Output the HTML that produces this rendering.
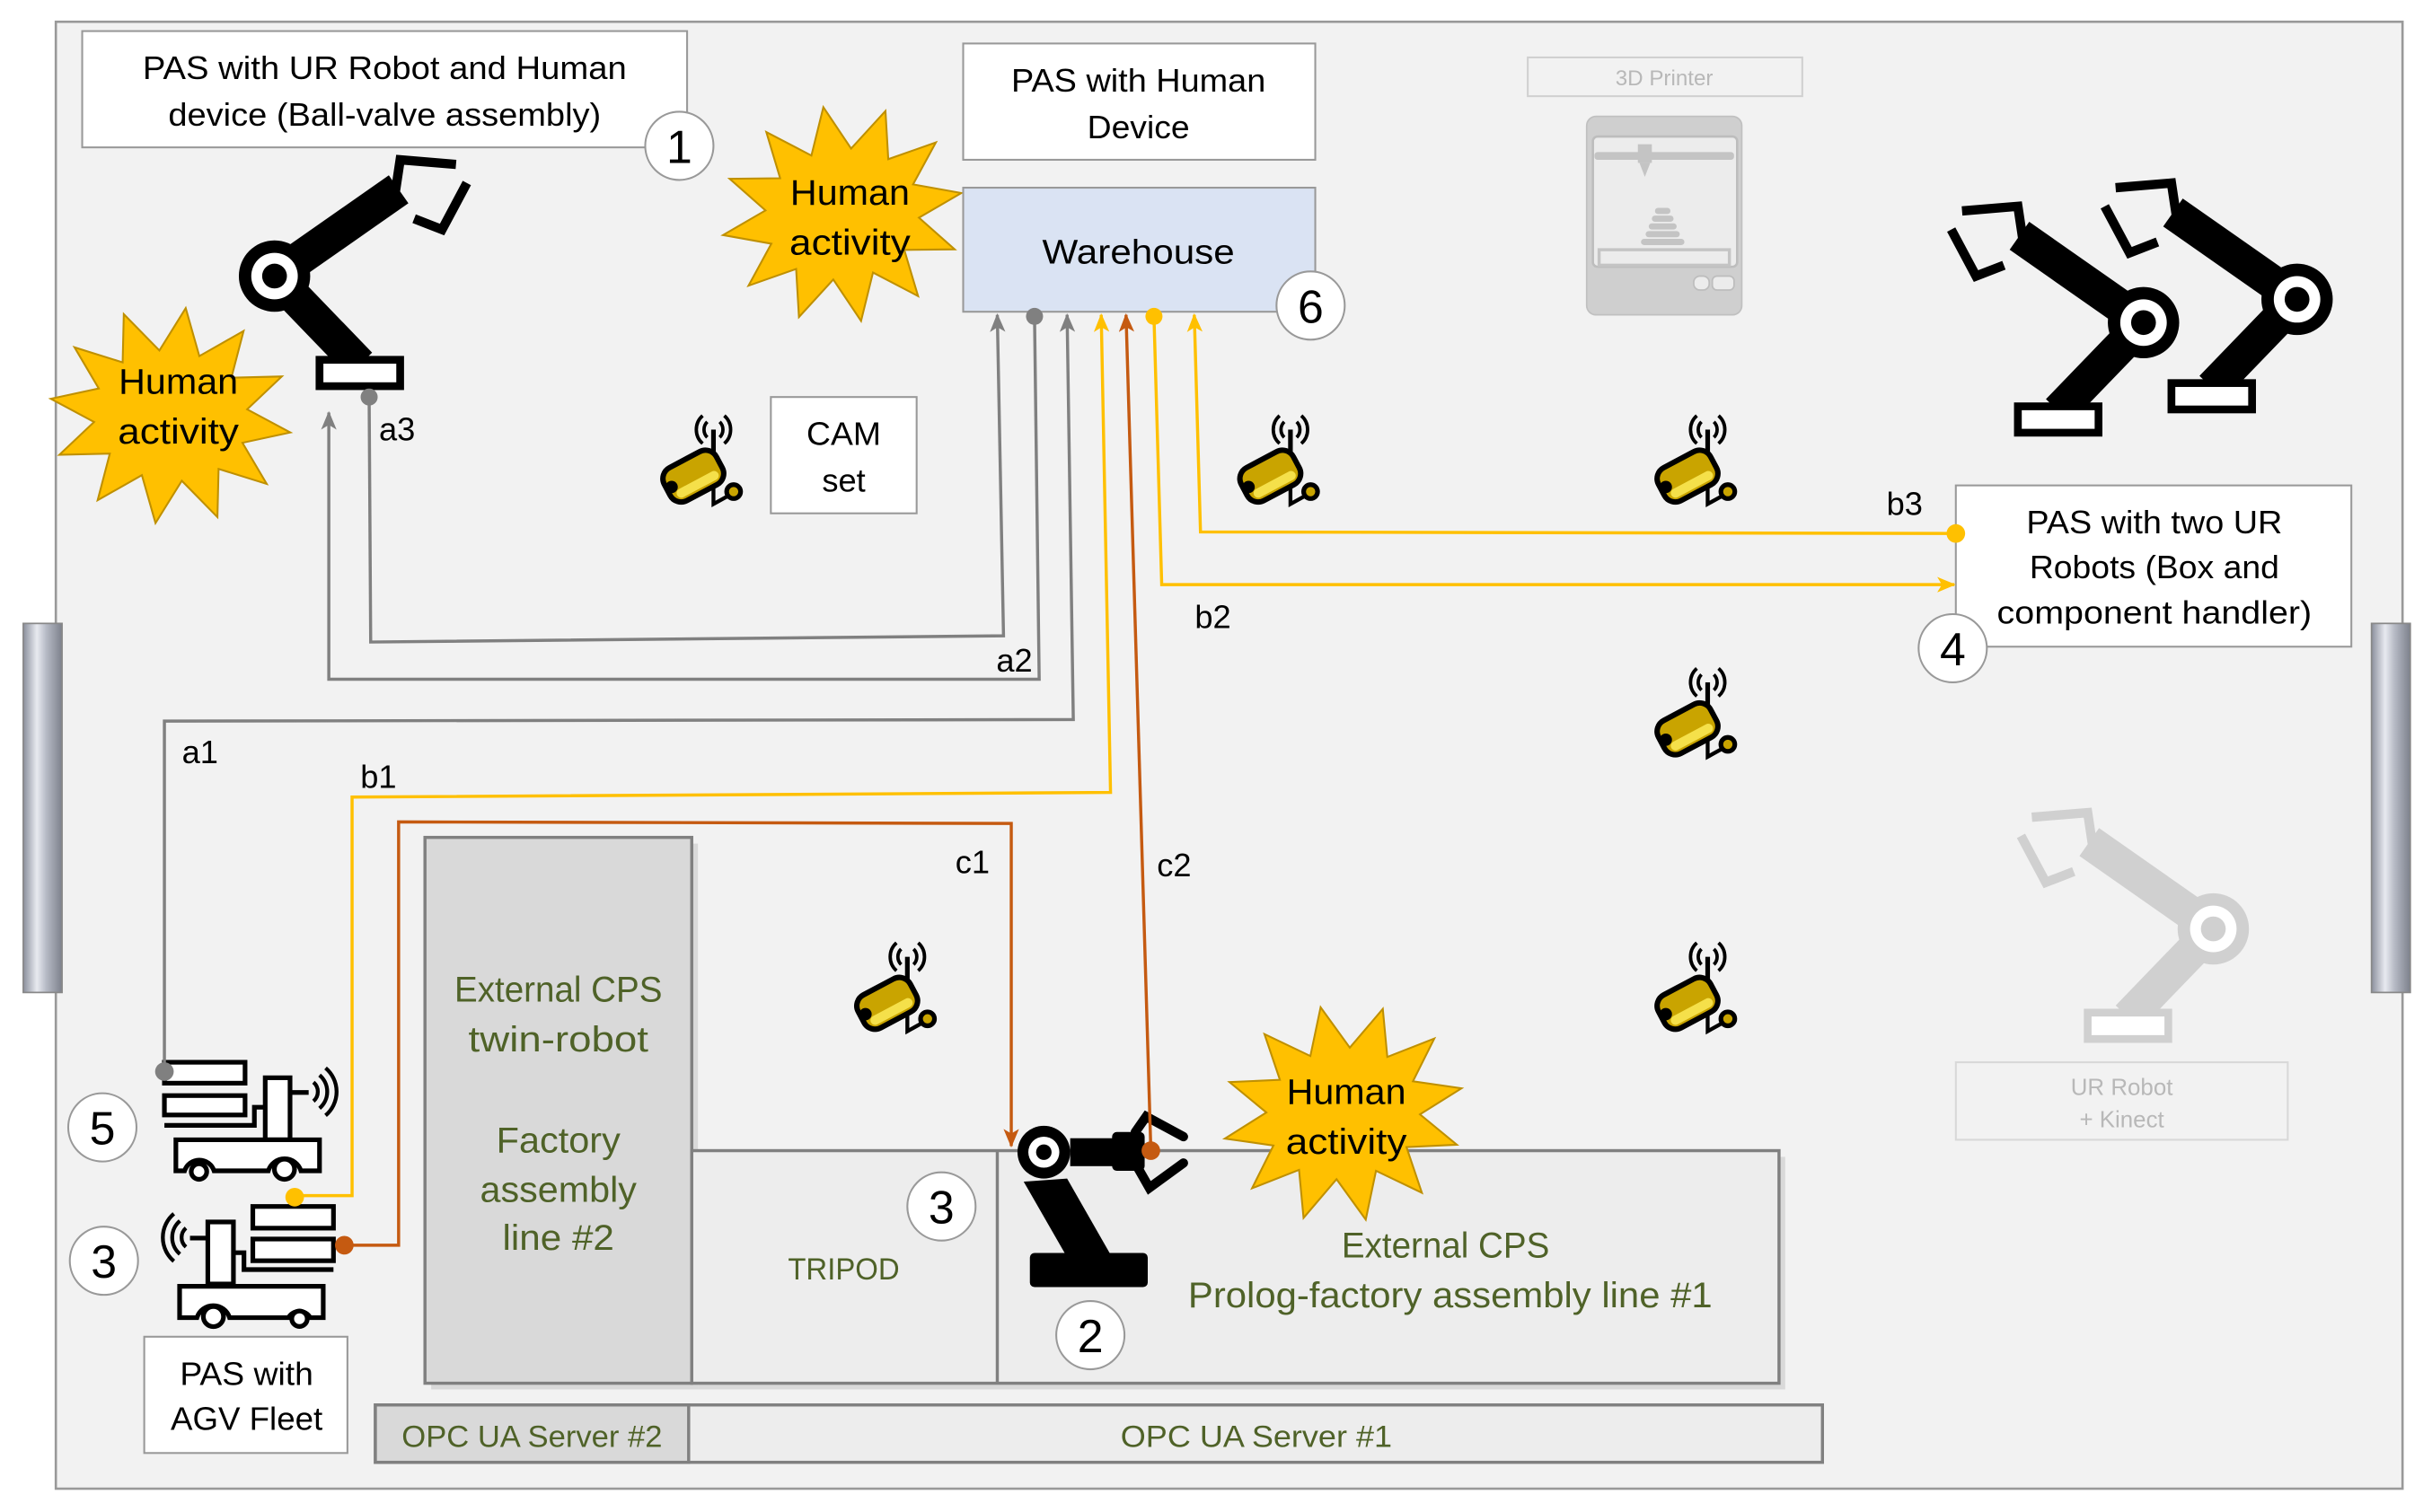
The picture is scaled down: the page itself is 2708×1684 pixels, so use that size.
<!DOCTYPE html>
<html><head><meta charset="utf-8"><style>
html,body{margin:0;padding:0;background:#fff;}
svg{display:block;}
text{font-family:"Liberation Sans",sans-serif;}
</style></head><body>
<svg width="2708" height="1684" viewBox="0 0 1568 975" xmlns="http://www.w3.org/2000/svg">
<defs>
<linearGradient id="bar" x1="0" x2="1" y1="0" y2="0">
<stop offset="0" stop-color="#8a8f9c"/><stop offset="0.35" stop-color="#e8eaf0"/><stop offset="0.6" stop-color="#b5b9c4"/><stop offset="1" stop-color="#7d818c"/>
</linearGradient>
<marker id="ag" markerWidth="12" markerHeight="10" refX="11" refY="5" orient="auto" markerUnits="userSpaceOnUse" viewBox="0 0 12 10"><path d="M0 0 L12 5 L0 10 L3 5 Z" fill="#808080"/></marker>
<marker id="ay" markerWidth="12" markerHeight="10" refX="11" refY="5" orient="auto" markerUnits="userSpaceOnUse" viewBox="0 0 12 10"><path d="M0 0 L12 5 L0 10 L3 5 Z" fill="#ffc000"/></marker>
<marker id="ao" markerWidth="12" markerHeight="10" refX="11" refY="5" orient="auto" markerUnits="userSpaceOnUse" viewBox="0 0 12 10"><path d="M0 0 L12 5 L0 10 L3 5 Z" fill="#c55a11"/></marker>
<g id="star">
<polygon points="78,0 48.3,10.9 67.5,35 35.4,29.7 39,60.6 13,40.6 0,70 -13,40.6 -39,60.6 -35.4,29.7 -67.5,35 -48.3,10.9 -78,0 -48.3,-10.9 -67.5,-35 -35.4,-29.7 -39,-60.6 -13,-40.6 0,-70 13,-40.6 39,-60.6 35.4,-29.7 67.5,-35 48.3,-10.9" fill="#ffc000" stroke="#bf9000" stroke-width="1.2"/>
</g>
<g id="rob">
<line x1="0" y1="0" x2="55" y2="57" stroke-width="22"/>
<rect x="29" y="54" width="52" height="17" fill="#fff" stroke-width="5"/>
<line x1="0" y1="0" x2="80" y2="-56" stroke-width="22"/>
<polyline points="78,-55 81,-75 117,-72" fill="none" stroke-width="6"/>
<polyline points="90,-37 108,-30 124,-60" fill="none" stroke-width="6"/>
<circle cx="0" cy="0" r="23" stroke="none"/>
<circle cx="0" cy="0" r="15" fill="#fff" stroke="none"/>
<circle cx="0" cy="0" r="8" stroke="none"/>
</g>
<g id="cam">
<path d="M-4 -5 A7 7 0 0 0 -4 5 M-7 -9 A12 12 0 0 0 -7 9 M4 -5 A7 7 0 0 1 4 5 M7 -9 A12 12 0 0 1 7 9" fill="none" stroke="#000" stroke-width="2.2"/>
<line x1="0" y1="0" x2="0" y2="22" stroke="#000" stroke-width="3"/>
<polyline points="0,36 0,48 9,43" fill="none" stroke="#000" stroke-width="2.5"/>
<circle cx="13" cy="40" r="4.5" fill="#c9a400" stroke="#000" stroke-width="3"/>
<g transform="translate(-13,30) rotate(-28)">
<rect x="-19" y="-12" width="38" height="24" rx="8" fill="#c9a400" stroke="#000" stroke-width="3.5"/>
<rect x="-15" y="3" width="30" height="6" rx="3" fill="#f5e04a"/>
</g>
<circle cx="-27" cy="37" r="4" fill="#000"/>
</g>
</defs>

<rect x="36" y="14" width="1513" height="946" fill="#f2f2f2" stroke="#999" stroke-width="1.5"/>
<rect x="15" y="402" width="25" height="238" fill="url(#bar)" stroke="#888" stroke-width="1"/>
<rect x="1529" y="402" width="25" height="238" fill="url(#bar)" stroke="#888" stroke-width="1"/>

<rect x="53" y="20" width="390" height="75" fill="#fff" stroke="#999" stroke-width="1.2"/>
<text x="248" y="51" font-size="21" text-anchor="middle" textLength="312" lengthAdjust="spacingAndGlyphs">PAS with UR Robot and  Human</text>
<text x="248" y="81" font-size="21" text-anchor="middle" textLength="279" lengthAdjust="spacingAndGlyphs">device (Ball-valve assembly)</text>

<g transform="translate(177,178)" fill="#000" stroke="#000"><use href="#rob"/></g>

<g transform="translate(110,268) rotate(8)"><use href="#star"/></g>
<text x="115" y="254" font-size="23" text-anchor="middle" textLength="77" lengthAdjust="spacingAndGlyphs">Human</text>
<text x="115" y="286" font-size="23" text-anchor="middle" textLength="78" lengthAdjust="spacingAndGlyphs">activity</text>

<g transform="translate(543,138) rotate(-10)"><use href="#star"/></g>
<text x="548" y="132" font-size="23" text-anchor="middle" textLength="77" lengthAdjust="spacingAndGlyphs">Human</text>
<text x="548" y="164" font-size="23" text-anchor="middle" textLength="78" lengthAdjust="spacingAndGlyphs">activity</text>

<rect x="621" y="28" width="227" height="75" fill="#fff" stroke="#999" stroke-width="1.2"/>
<text x="734" y="59" font-size="21" text-anchor="middle" textLength="164" lengthAdjust="spacingAndGlyphs">PAS with Human</text>
<text x="734" y="89" font-size="21" text-anchor="middle" textLength="66" lengthAdjust="spacingAndGlyphs">Device</text>

<rect x="621" y="121" width="227" height="80" fill="#dae3f3" stroke="#999" stroke-width="1.2"/>
<text x="734" y="170" font-size="22" text-anchor="middle" textLength="124" lengthAdjust="spacingAndGlyphs">Warehouse</text>

<rect x="985" y="37" width="177" height="25" fill="#f2f2f2" stroke="#d0d0d0" stroke-width="1.2"/>
<text x="1073" y="55" font-size="14" fill="#b8b8b8" text-anchor="middle">3D Printer</text>
<rect x="1023" y="75" width="100" height="128" rx="6" fill="#cfcfcf" stroke="#c0c0c0"/>
<rect x="1027" y="88" width="93" height="84" rx="3" fill="#ececec" stroke="#bdbdbd" stroke-width="1.5"/>
<rect x="1028" y="98" width="90" height="5" rx="2" fill="#c4c4c4"/>
<rect x="1056" y="93" width="9" height="12" fill="#c4c4c4"/>
<path d="M1057 105 L1064 105 L1060.5 114 Z" fill="#c4c4c4"/>
<rect x="1067" y="134" width="10" height="4" rx="2" fill="#c4c4c4"/>
<rect x="1065" y="139" width="14" height="4" rx="2" fill="#c4c4c4"/>
<rect x="1063" y="144" width="18" height="4" rx="2" fill="#c4c4c4"/>
<rect x="1061" y="149" width="22" height="4" rx="2" fill="#c4c4c4"/>
<rect x="1058" y="154" width="28" height="4" rx="2" fill="#c4c4c4"/>
<rect x="1031" y="161" width="84" height="10" fill="#ececec" stroke="#c4c4c4" stroke-width="2"/>
<rect x="1092" y="178" width="10" height="9" rx="4" fill="#ececec" stroke="#bdbdbd"/>
<rect x="1104" y="178" width="14" height="9" rx="3" fill="#ececec" stroke="#bdbdbd"/>

<g transform="translate(1382,208) scale(-1,1)" fill="#000" stroke="#000"><use href="#rob"/></g>
<g transform="translate(1481,193) scale(-1,1)" fill="#000" stroke="#000"><use href="#rob"/></g>

<g transform="translate(1427,599) scale(-1,1)" fill="#d0d0d0" stroke="#d0d0d0"><use href="#rob"/></g>
<rect x="1261" y="685" width="214" height="50" fill="none" stroke="#d8d8d8" stroke-width="1.2"/>
<text x="1368" y="706" font-size="15" fill="#b8b8b8" text-anchor="middle">UR Robot</text>
<text x="1368" y="727" font-size="15" fill="#b8b8b8" text-anchor="middle">+ Kinect</text>

<rect x="1261" y="313" width="255" height="104" fill="#fff" stroke="#999" stroke-width="1.2"/>
<text x="1389" y="344" font-size="21" text-anchor="middle" textLength="165" lengthAdjust="spacingAndGlyphs">PAS with two UR</text>
<text x="1389" y="373" font-size="21" text-anchor="middle" textLength="161" lengthAdjust="spacingAndGlyphs">Robots (Box and</text>
<text x="1389" y="402" font-size="21" text-anchor="middle" textLength="203" lengthAdjust="spacingAndGlyphs">component handler)</text>

<rect x="497" y="256" width="94" height="75" fill="#fff" stroke="#999" stroke-width="1.2"/>
<text x="544" y="287" font-size="21" text-anchor="middle" textLength="48" lengthAdjust="spacingAndGlyphs">CAM</text>
<text x="544" y="317" font-size="21" text-anchor="middle">set</text>

<use href="#cam" transform="translate(460,277)"/>
<use href="#cam" transform="translate(832,277)"/>
<use href="#cam" transform="translate(1101,277)"/>
<use href="#cam" transform="translate(1101,440)"/>
<use href="#cam" transform="translate(585,617)"/>
<use href="#cam" transform="translate(1101,617)"/>

<rect x="278" y="544" width="172" height="352" fill="#c8c8c8" opacity="0.6"/>
<rect x="274" y="540" width="172" height="352" fill="#d9d9d9" stroke="#808080" stroke-width="2"/>
<g fill="#4f6228" font-size="23" text-anchor="middle">
<text x="360" y="646" textLength="134" lengthAdjust="spacingAndGlyphs">External CPS</text>
<text x="360" y="678" textLength="116" lengthAdjust="spacingAndGlyphs">twin-robot</text>
<text x="360" y="743" textLength="80" lengthAdjust="spacingAndGlyphs">Factory</text>
<text x="360" y="775" textLength="101" lengthAdjust="spacingAndGlyphs">assembly</text>
<text x="360" y="806" textLength="72" lengthAdjust="spacingAndGlyphs">line #2</text>
</g>

<rect x="450" y="746" width="701" height="150" fill="#c8c8c8" opacity="0.6"/>
<rect x="446" y="742" width="701" height="150" fill="#ededed" stroke="#808080" stroke-width="2"/>
<line x1="643" y1="742" x2="643" y2="892" stroke="#808080" stroke-width="2"/>
<text x="544" y="825" font-size="20" fill="#4f6228" text-anchor="middle" textLength="72" lengthAdjust="spacingAndGlyphs">TRIPOD</text>
<text x="932" y="811" font-size="23" fill="#4f6228" text-anchor="middle" textLength="134" lengthAdjust="spacingAndGlyphs">External CPS</text>
<text x="935" y="843" font-size="23" fill="#4f6228" text-anchor="middle" textLength="338" lengthAdjust="spacingAndGlyphs">Prolog-factory assembly line #1</text>

<g fill="#000">
<polygon points="660,762 688,760 716,809 687,809"/>
<rect x="664" y="808" width="76" height="22" rx="3"/>
<rect x="690" y="734" width="30" height="18"/>
<rect x="717" y="730" width="21" height="25" rx="3"/>
<circle cx="673" cy="743" r="17"/>
<circle cx="673" cy="743" r="10" fill="#fff"/>
<circle cx="673" cy="743" r="5"/>
</g>
<polyline points="732,730 739,720 763,733" fill="none" stroke="#000" stroke-width="6" stroke-linecap="round"/>
<polyline points="733,752 741,766 763,750" fill="none" stroke="#000" stroke-width="6" stroke-linecap="round"/>

<g transform="translate(866,718) rotate(-12)"><use href="#star"/></g>
<text x="868" y="712" font-size="23" text-anchor="middle" textLength="77" lengthAdjust="spacingAndGlyphs">Human</text>
<text x="868" y="744" font-size="23" text-anchor="middle" textLength="78" lengthAdjust="spacingAndGlyphs">activity</text>

<rect x="242" y="906" width="933" height="37" fill="#ededed" stroke="#808080" stroke-width="2"/>
<rect x="242" y="906" width="202" height="37" fill="#d9d9d9" stroke="#808080" stroke-width="2"/>
<text x="343" y="933" font-size="20" fill="#4f6228" text-anchor="middle" textLength="168" lengthAdjust="spacingAndGlyphs">OPC UA Server #2</text>
<text x="810" y="933" font-size="20" fill="#4f6228" text-anchor="middle" textLength="175" lengthAdjust="spacingAndGlyphs">OPC UA Server #1</text>

<g fill="#fff" stroke="#000" stroke-width="3">
<rect x="106" y="685" width="52" height="13.5"/>
<rect x="106" y="706.5" width="52" height="12.5"/>
<polyline points="106,725.7 164,725.7 164,714 171,714" fill="none"/>
<rect x="171" y="695" width="16" height="40"/>
<line x1="187" y1="704.5" x2="199" y2="704.5"/>
<path d="M113.4 735 L206 735 L206 755 L194 755 A11 11 0 0 0 173 755 L138 755 A10 10 0 0 0 119 755 L113.4 755 Z"/>
<circle cx="128.3" cy="755.5" r="5"/>
<circle cx="183.4" cy="754" r="6.5"/>
<path d="M202.1 697.9 A8 8 0 0 1 202.1 710.1 M206 693.3 A14 14 0 0 1 206 714.7 M209.9 688.7 A20 20 0 0 1 209.9 719.3" fill="none" stroke-width="2.5"/>
</g>
<g fill="#fff" stroke="#000" stroke-width="3">
<rect x="163" y="778" width="52" height="14"/>
<rect x="163" y="799" width="52" height="14"/>
<polyline points="215,818.7 157.3,818.7 157.3,807.8 150.5,807.8" fill="none"/>
<rect x="134" y="788" width="16.5" height="40"/>
<line x1="122.5" y1="798.4" x2="134" y2="798.4"/>
<path d="M115.8 829.5 L208.4 829.5 L208.4 849.7 L200 849.7 A8 8 0 0 0 186 849.7 L148 849.7 A11 11 0 0 0 127 849.7 L115.8 849.7 Z"/>
<circle cx="137.6" cy="849" r="6.5"/>
<circle cx="193.1" cy="850.4" r="5"/>
<path d="M119.9 791.9 A8 8 0 0 0 119.9 804.1 M116 787.3 A14 14 0 0 0 116 808.7 M112.1 782.7 A20 20 0 0 0 112.1 813.3" fill="none" stroke-width="2.5"/>
</g>

<rect x="93" y="862" width="131" height="75" fill="#fff" stroke="#999" stroke-width="1.2"/>
<text x="159" y="893" font-size="21" text-anchor="middle" textLength="86" lengthAdjust="spacingAndGlyphs">PAS with</text>
<text x="159" y="922" font-size="21" text-anchor="middle" textLength="98" lengthAdjust="spacingAndGlyphs">AGV Fleet</text>

<g fill="none" stroke-width="2">
<polyline points="238,256 239,414 647,410 643,203" stroke="#808080" marker-end="url(#ag)"/>
<polyline points="667,204 670,438 212,438 212,266" stroke="#808080" marker-end="url(#ag)"/>
<polyline points="106,691 106,465 692,464 688,203" stroke="#808080" marker-end="url(#ag)"/>
<polyline points="190,771 227,771 227,514 716,511 710,203" stroke="#ffc000" marker-end="url(#ay)"/>
<polyline points="222,803 257,803 257,530 652,531 652,739" stroke="#c55a11" marker-end="url(#ao)"/>
<polyline points="742,742 726,203" stroke="#c55a11" marker-end="url(#ao)"/>
<polyline points="744,204 749,377 1260,377" stroke="#ffc000" marker-end="url(#ay)"/>
<polyline points="1261,344 774,343 770,203" stroke="#ffc000" marker-end="url(#ay)"/>
</g>
<circle cx="238" cy="256" r="5.5" fill="#808080"/>
<circle cx="667" cy="204" r="5.5" fill="#808080"/>
<circle cx="106" cy="691" r="6" fill="#808080"/>
<circle cx="190" cy="772" r="6" fill="#ffc000"/>
<circle cx="222" cy="803" r="6" fill="#c55a11"/>
<circle cx="742" cy="742" r="6" fill="#c55a11"/>
<circle cx="744" cy="204" r="5.5" fill="#ffc000"/>
<circle cx="1261" cy="344" r="6" fill="#ffc000"/>

<g font-size="21" text-anchor="middle">
<text x="256" y="284">a3</text>
<text x="654" y="433">a2</text>
<text x="129" y="492">a1</text>
<text x="244" y="508">b1</text>
<text x="782" y="405">b2</text>
<text x="1228" y="332">b3</text>
<text x="627" y="563">c1</text>
<text x="757" y="565">c2</text>
</g>

<g fill="#fff" stroke="#999" stroke-width="1.2">
<circle cx="438" cy="94" r="22"/>
<circle cx="845" cy="197" r="22"/>
<circle cx="1259" cy="418" r="22"/>
<circle cx="66" cy="727" r="22"/>
<circle cx="67" cy="813" r="22"/>
<circle cx="607" cy="778" r="22"/>
<circle cx="703" cy="861" r="22"/>
</g>
<g font-size="30" text-anchor="middle">
<text x="438" y="105">1</text>
<text x="845" y="208">6</text>
<text x="1259" y="429">4</text>
<text x="66" y="738">5</text>
<text x="67" y="824">3</text>
<text x="607" y="789">3</text>
<text x="703" y="872">2</text>
</g>
</svg>
</body></html>
